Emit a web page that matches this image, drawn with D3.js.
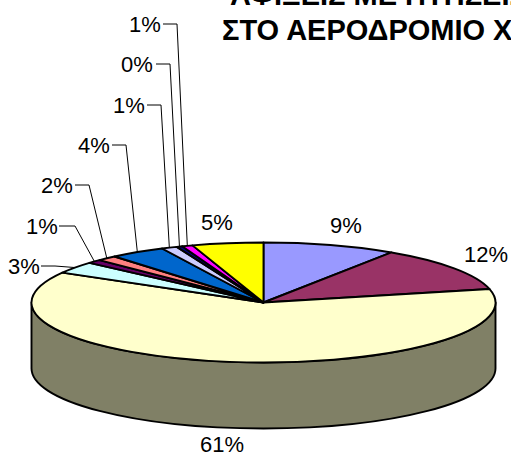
<!DOCTYPE html>
<html><head><meta charset="utf-8">
<script src="https://cdn.jsdelivr.net/npm/d3@7/dist/d3.min.js"></script>
<style>html,body{margin:0;padding:0;background:#fff;overflow:hidden}svg{display:block}text{font-family:"Liberation Sans",Arial,sans-serif;fill:#000}</style>
</head><body><script>
const titleLines = ["ΑΦΙΞΕΙΣ ΜΕ ΠΤΗΣΕΙΣ", "ΣΤΟ ΑΕΡΟΔΡΟΜΙΟ Χ"];
const sliceValues = [9.3, 12.1, 61.9, 3.2, 1.0, 1.4, 3.9, 1.1, 0.4, 0.75, 4.95];
const sliceLabels = ["9%", "12%", "61%", "3%", "1%", "2%", "4%", "1%", "0%", "1%", "5%"];
const sliceColors = ["#9999FF", "#993366", "#FFFFCC", "#CCFFFF", "#660066", "#FF8080", "#0066CC", "#CCCCFF", "#000080", "#FF00FF", "#FFFF00"];
// label anchor (centre x, centre y); leader start and elbow only for small slices
const labelPlace = [
  {x:346,y:225},{x:486,y:254},{x:222,y:444},
  {x:24,y:266,lx:41,ex:55},
  {x:42,y:226,lx:59,ex:75},
  {x:57,y:185,lx:75,ex:89},
  {x:94,y:145,lx:112,ex:126},
  {x:129,y:105,lx:147,ex:161},
  {x:137,y:64,lx:156,ex:170},
  {x:145,y:24,lx:163,ex:177},
  {x:217,y:222}
];
const W = 511, H = 457, cx = 263.5, cy = 302.5, rx = 232, ry = 60, depth = 66;
const svg = d3.select("body").append("svg").attr("width", W).attr("height", H);
const pie = d3.pie().sort(null).value(d => d).startAngle(0).endAngle(2 * Math.PI);
const arcs = pie(sliceValues);
const arc = d3.arc().innerRadius(0).outerRadius(rx);
const px = a => cx + rx * Math.sin(a), py = a => cy - ry * Math.cos(a);
const sw = 1.9;

// side wall
const lo = Math.PI / 2, hi = 3 * Math.PI / 2;
arcs.forEach((d, i) => {
  const a0 = Math.max(d.startAngle, lo), a1 = Math.min(d.endAngle, hi);
  if (a1 <= a0) return;
  const c = d3.color(sliceColors[i]);
  const side = d3.rgb(c.r * .5, c.g * .5, c.b * .5);
  svg.append("path")
    .attr("d", `M${px(a0)},${py(a0)}A${rx},${ry} 0 0 1 ${px(a1)},${py(a1)}L${px(a1)},${py(a1)+depth}A${rx},${ry} 0 0 0 ${px(a0)},${py(a0)+depth}Z`)
    .attr("fill", side).attr("stroke", "#000").attr("stroke-width", sw).attr("stroke-linejoin", "round");
});

// top face
svg.append("g").attr("transform", `translate(${cx},${cy}) scale(1,${ry / rx})`)
  .selectAll("path").data(arcs).join("path")
  .attr("d", arc).attr("fill", (d, i) => sliceColors[i])
  .attr("stroke", "#000").attr("stroke-width", sw).attr("stroke-linejoin", "round")
  .attr("vector-effect", "non-scaling-stroke");

// leaders
arcs.forEach((d, i) => {
  const p = labelPlace[i];
  if (p.lx === undefined) return;
  const m = (d.startAngle + d.endAngle) / 2;
  const pts = [[p.lx, p.y], [p.ex, p.y], [px(m), py(m)]];
  svg.append("path").attr("d", d3.line()(pts)).attr("fill", "none").attr("stroke", "#000").attr("stroke-width", 1);
});

// labels
svg.selectAll("text.lab").data(sliceLabels).join("text").attr("class", "lab")
  .attr("x", (d, i) => labelPlace[i].x).attr("y", (d, i) => labelPlace[i].y + 8)
  .attr("text-anchor", "middle").attr("font-size", 22).text(d => d);

// title: first line runs off the top and right edges, as in the reference
svg.selectAll("text.title").data(titleLines).join("text").attr("class", "title")
  .attr("x", (d, i) => i ? 222 : 230).attr("y", (d, i) => 4.5 + i * 35.5)
  .attr("text-anchor", "start").attr("font-size", 29).attr("font-weight", "bold").text(d => d);
</script></body></html>
